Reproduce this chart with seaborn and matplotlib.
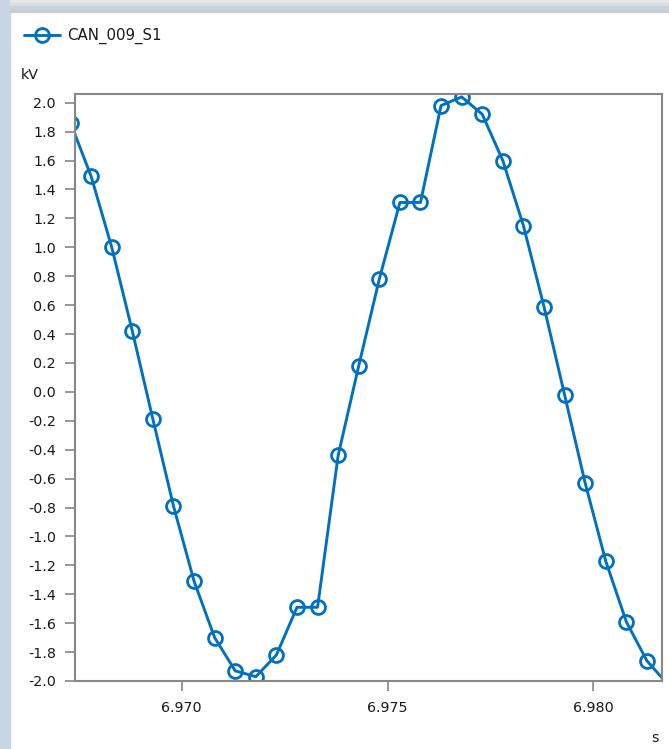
import matplotlib
matplotlib.use("Agg")
import matplotlib.pyplot as plt
from matplotlib.patches import Rectangle
from matplotlib.ticker import FormatStrFormatter
import numpy as np
import pandas as pd
import seaborn as sns

# sampled signal (s, kV)
time_s = [6.9673, 6.9678, 6.9683, 6.9688, 6.9693, 6.9698, 6.9703, 6.9708,
          6.9713, 6.9718, 6.9723, 6.9728, 6.9733, 6.9738, 6.9743, 6.9748,
          6.9753, 6.9758, 6.9763, 6.9768, 6.9773, 6.9778, 6.9783, 6.9788,
          6.9793, 6.9798, 6.9803, 6.9808, 6.9813, 6.9818]
voltage_kv = [1.86, 1.49, 1.00, 0.42, -0.19, -0.79, -1.31, -1.70,
              -1.93, -1.97, -1.82, -1.49, -1.49, -0.44, 0.18, 0.78,
              1.31, 1.31, 1.98, 2.04, 1.92, 1.60, 1.15, 0.59,
              -0.02, -0.63, -1.17, -1.59, -1.86, -2.02]
series_name = "CAN_009_S1"
x_ticks = [6.970, 6.975, 6.980]
y_ticks = [-2.0, -1.8, -1.6, -1.4, -1.2, -1.0, -0.8, -0.6, -0.4, -0.2,
           0.0, 0.2, 0.4, 0.6, 0.8, 1.0, 1.2, 1.4, 1.6, 1.8, 2.0]

df = pd.DataFrame({"t": time_s, "v": voltage_kv})

sns.set_style("white")
plt.rcParams["font.family"] = ["DejaVu Sans"]
plt.rcParams["axes.unicode_minus"] = False

W, H = 669, 749
fig = plt.figure(figsize=(W / 100, H / 100), dpi=100)
fig.patch.set_facecolor("white")

# window frame shadow (left + top)
fig.add_artist(Rectangle((0, 0), 10 / W, 1, transform=fig.transFigure,
                         color="#c9d4e6", zorder=0))
for i, c in enumerate(["#e4e7ec", "#d9dde4", "#ced3db", "#c7ccd5"]):
    fig.add_artist(Rectangle((10 / W, 1 - 3 * (i + 1) / H), 1, 3 / H,
                             transform=fig.transFigure, color=c, zorder=0))

ax = fig.add_axes([74.7 / W, 1 - 681 / H, (661.7 - 74.7) / W, (681 - 94.3) / H])

blue = "#0070c0"
sns.lineplot(data=df, x="t", y="v", ax=ax, color=blue, linewidth=2.1,
             marker="o", markersize=10, markerfacecolor="none",
             markeredgecolor=blue, markeredgewidth=2.0, label=series_name)

ax.set_xlim(6.96740, 6.98166)
ax.set_ylim(-2.0, 2.058)
ax.set_xticks(x_ticks)
ax.set_yticks(y_ticks)
ax.xaxis.set_major_formatter(FormatStrFormatter("%.3f"))
ax.yaxis.set_major_formatter(FormatStrFormatter("%.1f"))
ax.set_xlabel("")
ax.set_ylabel("")

# markers at the edges are cut by the plot area, as in the original
for line in ax.lines:
    line.set_clip_on(True)
    line.set_clip_path(ax.patch)

for s in ax.spines.values():
    s.set_color("#888888")
    s.set_linewidth(1.5)
    s.set_zorder(5)
ax.tick_params(axis="both", which="major", direction="out", length=7.5,
               width=1.2, color="#888888", labelsize=10.3,
               labelcolor="#1a1a1a", left=True, bottom=True)
ax.tick_params(axis="y", pad=6)
ax.tick_params(axis="x", pad=7)

leg = ax.legend(loc="center left", bbox_to_anchor=(24 / W, 1 - 36 / H),
                bbox_transform=fig.transFigure, frameon=False,
                fontsize=10.8, handlelength=2.4, handletextpad=0.5,
                borderaxespad=0, borderpad=0)
for t in leg.get_texts():
    t.set_color("#1a1a1a")

fig.text(21 / W, 1 - 75 / H, "kV", fontsize=10.3, color="#1a1a1a",
         ha="left", va="center")
fig.text(655 / W, 1 - 738 / H, "s", fontsize=10.3, color="#1a1a1a",
         ha="center", va="center")

fig.savefig("out.png", dpi=100)
